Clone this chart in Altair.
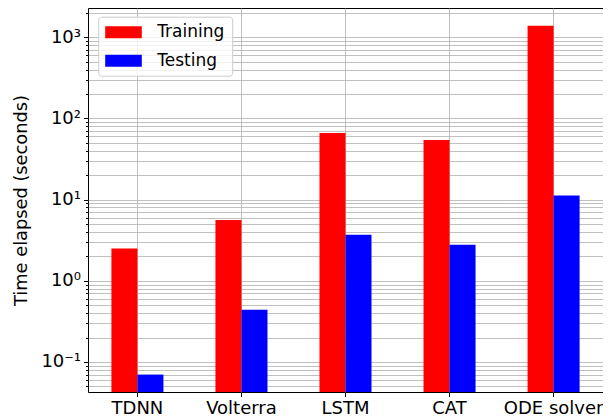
import altair as alt
import pandas as pd

models = ["TDNN", "Volterra", "LSTM", "CAT", "ODE solver"]
training = [2.5, 5.6, 66, 54, 1380]
testing = [0.07, 0.44, 3.7, 2.77, 11.2]
phases = ["Training", "Testing"]
colors = ["#ff0000", "#0000ff"]

decades = [0.1, 1, 10, 100, 1000]
decade_labels = ["10⁻¹", "10⁰", "10¹", "10²", "10³"]
y_domain = [0.0427, 2288]

rows = []
for m, tr, te in zip(models, training, testing):
    rows.append({"model": m, "phase": "Training", "time": tr})
    rows.append({"model": m, "phase": "Testing", "time": te})
df = pd.DataFrame(rows)

tick_values = []
for k in range(-2, 4):
    for mult in range(1, 10):
        v = round(mult * 10 ** k, 6)
        if y_domain[0] <= v <= y_domain[1]:
            tick_values.append(v)

label_expr = ""
for d, lab in zip(decades, decade_labels):
    label_expr += f"datum.value == {d} ? '{lab}' : "
label_expr += "''"
major_test = " || ".join(f"datum.value == {d}" for d in decades)

FONT = "DejaVu Sans"

chart = alt.Chart(df).mark_bar().encode(
    x=alt.X("model:N", sort=models, title=None,
            scale=alt.Scale(paddingInner=0.5, paddingOuter=0.225),
            axis=alt.Axis(labelAngle=0, grid=True, bandPosition=0.5,
                          gridColor="#b0b0b0", gridWidth=0.8,
                          tickSize=4.5, tickColor="black", domain=False,
                          labelPadding=3, labelFontSize=18, labelColor="black")),
    xOffset=alt.XOffset("phase:N", sort=phases, scale=alt.Scale(paddingInner=0)),
    y=alt.Y("time:Q", title="Time elapsed (seconds)",
            scale=alt.Scale(type="log", domain=y_domain, clamp=True, nice=False),
            axis=alt.Axis(values=tick_values, labelExpr=label_expr,
                          grid=True, gridColor="#b0b0b0", gridWidth=0.8,
                          tickSize={"condition": {"test": major_test, "value": 4.5}, "value": 2.5},
                          tickColor="black", domain=False,
                          labelPadding=3, labelFontSize=18, labelColor="black",
                          titleFontSize=17.8, titleFontWeight="normal", titleColor="black",
                          titlePadding=10)),
    color=alt.Color("phase:N", sort=phases,
                    scale=alt.Scale(domain=phases, range=colors),
                    legend=alt.Legend(title=None, orient="none", legendX=10.2, legendY=8.7,
                                      symbolType="M-1,-0.705H3.306V0.705H-1Z",
                                      symbolSize=289, symbolStrokeWidth=0,
                                      symbolOpacity=1,
                                      labelFontSize=17, labelColor="black",
                                      labelOffset=35, rowPadding=10.5,
                                      padding=7, strokeColor="#cccccc",
                                      fillColor="rgba(255,255,255,0.8)",
                                      cornerRadius=3)),
).properties(
    width=515, height=384,
    autosize=alt.AutoSizeParams(type="none"),
    padding={"left": 80, "top": 0, "right": 0, "bottom": 28},
).configure(
    font=FONT,
).configure_view(
    stroke="black", strokeWidth=1,
)

chart.save("out.html", embed_options={"renderer": "svg", "actions": False})
